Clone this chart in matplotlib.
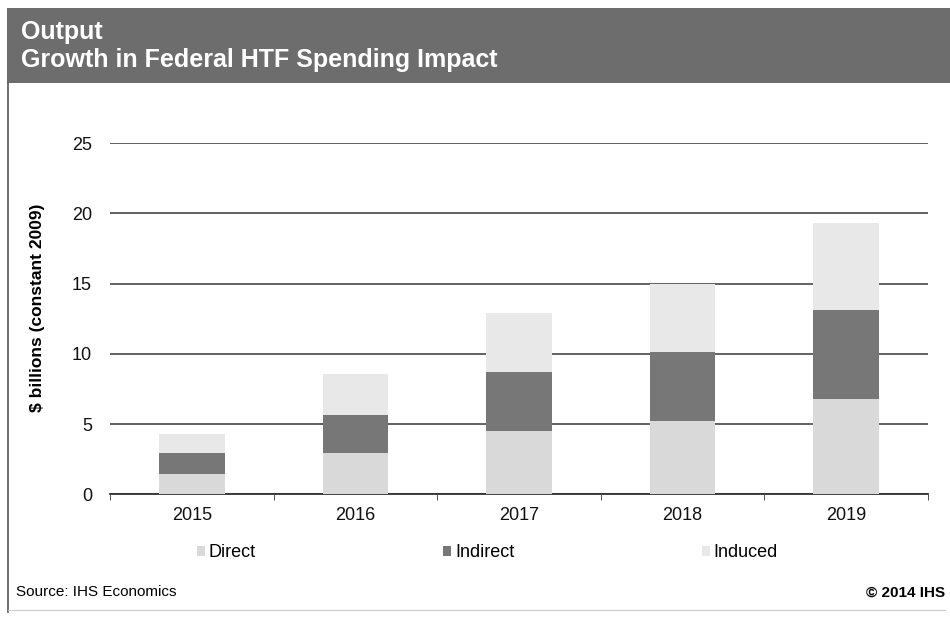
import numpy as np
import matplotlib.pyplot as plt
from matplotlib.patches import Rectangle
from matplotlib.lines import Line2D

plt.rcParams['font.family'] = ['Liberation Sans', 'DejaVu Sans']

# data ($ billions, constant 2009)
years = ['2015', '2016', '2017', '2018', '2019']
direct = [1.47, 2.97, 4.48, 5.19, 6.79]
indirect = [1.50, 2.69, 4.21, 4.91, 6.31]
induced = [1.32, 2.91, 4.19, 4.88, 6.19]
series_names = ['Direct', 'Indirect', 'Induced']
colors = ['#d9d9d9', '#777777', '#e8e8e8']

fig = plt.figure(figsize=(9.5, 6.17), dpi=100)

# title banner
fig.patches.append(Rectangle((0.007, 0.866), 0.993, 0.121, transform=fig.transFigure,
                             facecolor='#6d6d6d', edgecolor='none', zorder=0))
fig.text(0.022, 0.948, 'Output', color='white', fontsize=18, fontweight='bold', va='center')
fig.text(0.022, 0.902, 'Growth in Federal HTF Spending Impact', color='white',
         fontsize=18, fontweight='bold', va='center')
# thin frame around the panel
fig.add_artist(Line2D([0.008, 0.008], [0.008, 0.866], transform=fig.transFigure,
                      color='#555555', lw=1.2))
fig.add_artist(Line2D([0.008, 0.995], [0.012, 0.012], transform=fig.transFigure,
                      color='#cccccc', lw=0.8))

ax = fig.add_axes([0.1158, 0.199, 0.861, 0.569])
x = np.arange(len(years))
w = 0.4
bottom = np.zeros(len(years))
for vals, c, name in zip([direct, indirect, induced], colors, series_names):
    ax.bar(x, vals, w, bottom=bottom, color=c, label=name, zorder=3)
    bottom += np.array(vals)

ax.set_xlim(-0.5, len(years) - 0.5)
ax.set_ylim(0, 25)
ax.set_yticks(np.arange(0, 26, 5))
ax.set_xticks(x)
ax.set_xticklabels(years)
ax.set_xticks(np.arange(-0.5, len(years), 1), minor=True)
ax.tick_params(axis='x', which='major', length=0, labelsize=13, pad=9, colors='#111111')
ax.tick_params(axis='x', which='minor', length=4, color='#333333')
ax.tick_params(axis='y', length=0, labelsize=13, pad=13, colors='#111111')
ax.yaxis.grid(True, color='#555555', lw=1.3, zorder=1)
for s in ['top', 'right', 'left']:
    ax.spines[s].set_visible(False)
ax.spines['bottom'].set_color('#333333')
ax.spines['bottom'].set_linewidth(1.3)
ax.set_ylabel('$ billions (constant 2009)', fontsize=12.5, fontweight='bold')
ax.yaxis.set_label_coords(-0.080, 0.53)

handles, labels = ax.get_legend_handles_labels()
leg = fig.legend(handles, labels, loc='center', bbox_to_anchor=(0.513, 0.104), ncol=3,
                 frameon=False, fontsize=13, handlelength=0.45, handleheight=0.45,
                 handletextpad=0.2, columnspacing=10.4)

fig.text(0.017, 0.040, 'Source: IHS Economics', fontsize=11, va='center')
fig.text(0.995, 0.040, '\u00a9 2014 IHS', fontsize=11, va='center', ha='right',
         fontweight='bold')

fig.savefig('out.png', dpi=100)
